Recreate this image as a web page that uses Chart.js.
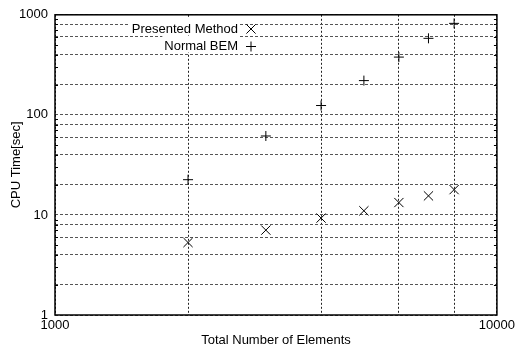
<!DOCTYPE html>
<html>
<head>
<meta charset="utf-8">
<script src="https://cdn.jsdelivr.net/npm/chart.js@4"></script>
<style>
  html, body { margin: 0; padding: 0; background: #fff; }
  #wrap { width: 518px; height: 349px; }
</style>
</head>
<body>
<div id="wrap"><canvas id="myChart" width="518" height="349"></canvas></div>
<script>
const elements = [2000, 3000, 4000, 5000, 6000, 7000, 8000];
const presentedTime = [5.3, 7.05, 9.3, 11.0, 13.3, 15.5, 17.9];
const normalBemTime = [22.5, 61.5, 124, 220, 378, 582, 821];

const xTicks = [1000, 2000, 4000, 6000, 8000, 10000];
const xLabels = [1000, 10000];
const yTicks = [1, 2, 4, 6, 8, 10, 20, 40, 60, 80, 100, 200, 400, 600, 800, 1000];
const yLabels = [1, 10, 100, 1000];

// small inward ticks on the y border, 2..9 in each decade
const yMinor = [];
[1, 10, 100].forEach(d => {
    for (let k = 2; k <= 9; k++) yMinor.push(k * d);
});

Chart.defaults.font.family = '"Liberation Sans", Arial, sans-serif';
Chart.defaults.font.size = 13;
Chart.defaults.color = '#000';

const framePlugin = {
    id: 'frame',
    afterDraw(chart) {
        const { ctx, chartArea: a, scales } = chart;
        ctx.save();
        ctx.strokeStyle = '#000';
        ctx.lineWidth = 1;
        ctx.beginPath();
        yMinor.forEach(v => {
            const y = Math.round(scales.y.getPixelForValue(v)) + 0.5;
            ctx.moveTo(a.left, y); ctx.lineTo(a.left + 3, y);
            ctx.moveTo(a.right, y); ctx.lineTo(a.right - 3, y);
        });
        ctx.stroke();

        ctx.lineWidth = 1.5;
        ctx.strokeRect(a.left, a.top, a.right - a.left, a.bottom - a.top);

        // gnuplot style key: text right aligned, symbol on the right
        ctx.font = '13px "Liberation Sans", Arial, sans-serif';
        ctx.textAlign = 'right';
        ctx.textBaseline = 'middle';
        const rows = [29, 46.5];
        chart.data.datasets.forEach((ds, i) => {
            const y = rows[i];
            const w = ctx.measureText(ds.label).width;
            ctx.fillStyle = '#fff';
            ctx.fillRect(238 - w - 2, y - 11, w + 4, 17);
            ctx.fillStyle = '#000';
            ctx.fillText(ds.label, 238, y);
            ctx.lineWidth = 1;
            ctx.strokeStyle = '#000';
            Chart.helpers.drawPoint(ctx, {
                pointStyle: ds.pointStyle,
                radius: ds.pointRadius,
                borderWidth: 1
            }, 251, y);
        });
        ctx.restore();
    }
};

const ctx = document.getElementById('myChart').getContext('2d');
const myChart = new Chart(ctx, {
    type: 'scatter',
    data: {
        datasets: [
            {
                label: 'Presented Method',
                data: elements.map((x, i) => ({ x: x, y: presentedTime[i] })),
                pointStyle: 'crossRot',
                pointRadius: 6.5,
                borderColor: '#000',
                backgroundColor: '#000',
                borderWidth: 1
            },
            {
                label: 'Normal BEM',
                data: elements.map((x, i) => ({ x: x, y: normalBemTime[i] })),
                pointStyle: 'cross',
                pointRadius: 5,
                borderColor: '#000',
                backgroundColor: '#000',
                borderWidth: 1
            }
        ]
    },
    options: {
        responsive: false,
        animation: false,
        layout: { padding: { left: 0, top: 14.5, right: 20, bottom: 0 } },
        plugins: {
            legend: { display: false },
            tooltip: { enabled: false }
        },
        scales: {
            x: {
                type: 'logarithmic',
                min: 1000,
                max: 10000,
                afterBuildTicks: s => { s.ticks = xTicks.map(v => ({ value: v })); },
                afterFit: s => { s.height = 34; },
                ticks: {
                    autoSkip: false,
                    maxRotation: 0,
                    padding: 3,
                    callback: v => xLabels.includes(v) ? String(v) : ''
                },
                grid: { color: '#222', drawTicks: false },
                border: { display: false, dash: [2, 2] },
                title: {
                    display: true,
                    text: 'Total Number of Elements',
                    padding: { top: 0, bottom: 0.5 }
                }
            },
            y: {
                type: 'logarithmic',
                min: 1,
                max: 1000,
                afterBuildTicks: s => { s.ticks = yTicks.map(v => ({ value: v })); },
                afterFit: s => { s.width = 55; },
                ticks: {
                    autoSkip: false,
                    padding: 7,
                    callback: v => yLabels.includes(v) ? String(v) : ''
                },
                grid: { color: '#555', drawTicks: false },
                border: { display: false, dash: [3, 2] },
                title: {
                    display: true,
                    text: 'CPU Time[sec]',
                    padding: { top: 8.7, bottom: 0 }
                }
            }
        }
    },
    plugins: [framePlugin]
});
</script>
</body>
</html>
